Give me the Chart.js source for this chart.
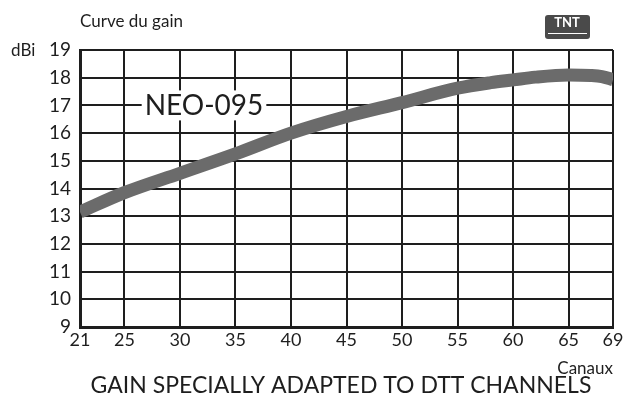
<!DOCTYPE html>
<html>
<head>
<meta charset="utf-8">
<script src="https://cdn.jsdelivr.net/npm/chart.js@4.4.1/dist/chart.umd.min.js"></script>
<style>
  html, body { margin: 0; padding: 0; background: #fff; }
  #wrap { width: 627px; height: 402px; position: relative; }
</style>
</head>
<body>
<div id="wrap"><canvas id="gain-chart"></canvas></div>
<script>
"use strict";

// values
const channels = [21, 25, 30, 35, 40, 45, 50, 55, 58, 60, 62, 65, 67, 68, 69];
const gainDbi = [13.15, 13.85, 14.55, 15.25, 16.0, 16.6, 17.1, 17.62, 17.82, 17.92, 18.02, 18.1, 18.08, 18.04, 17.93];
const xTickValues = [21, 25, 30, 35, 40, 45, 50, 55, 60, 65, 69];
const yTickValues = [9, 10, 11, 12, 13, 14, 15, 16, 17, 18, 19];

const titleText = "Curve du gain";
const yUnitText = "dBi";
const xUnitText = "Canaux";
const seriesLabel = "NEO-095";
const footerText = "GAIN SPECIALLY ADAPTED TO DTT CHANNELS";

const FONT = "Lato, 'Open Sans', sans-serif";
const INK = "#1e1e1e";

const annotations = {
  id: "annotations",
  afterDatasetsDraw(chart) {
    const ctx = chart.ctx;
    const x = chart.scales.x;
    const y = chart.scales.y;
    ctx.save();

    // series label sitting on the 17 dBi line with a white box behind it
    ctx.font = "28px " + FONT;
    const w = ctx.measureText(seriesLabel).width;
    const cx = 204;
    const cy = y.getPixelForValue(17);
    ctx.fillStyle = "#fff";
    ctx.fillRect(cx - w / 2 - 3, cy - 15, w + 6, 30);
    ctx.fillStyle = INK;
    ctx.textAlign = "center";
    ctx.textBaseline = "middle";
    ctx.fillText(seriesLabel, cx, cy + 1);

    // texts around the plot
    ctx.font = "17px " + FONT;
    ctx.textAlign = "left";
    ctx.fillText(titleText, 80, 22);
    ctx.fillText(yUnitText, 11, y.getPixelForValue(19) + 1);
    ctx.textAlign = "right";
    ctx.fillText(xUnitText, x.right, 369);

    ctx.font = "23px " + FONT;
    ctx.textAlign = "center";
    ctx.fillText(footerText, 341, 386);

    // small TNT badge
    ctx.fillStyle = "#4a4a4a";
    ctx.beginPath();
    ctx.roundRect(545, 15, 45, 24, 3);
    ctx.fill();
    ctx.fillStyle = "#fff";
    ctx.font = "bold 13px " + FONT;
    ctx.fillText("TNT", 567, 23);
    ctx.fillRect(548, 33, 39, 1);
    ctx.restore();
  }
};

new Chart(document.getElementById("gain-chart"), {
  type: "line",
  data: {
    datasets: [
      {
        label: seriesLabel,
        data: channels.map((c, i) => ({ x: c, y: gainDbi[i] })),
        borderColor: "#6b6b6b",
        borderWidth: 13,
        borderCapStyle: "butt",
        pointRadius: 0,
        cubicInterpolationMode: "monotone",
        fill: false,
        clip: 0
      }
    ]
  },
  options: {
    responsive: true,
    maintainAspectRatio: false,
    animation: false,
    layout: { padding: { top: 50, right: 14, bottom: 0, left: 0 } },
    plugins: {
      legend: { display: false },
      tooltip: { enabled: false }
    },
    scales: {
      x: {
        type: "linear",
        min: 21,
        max: 69,
        afterBuildTicks: (scale) => {
          scale.ticks = xTickValues.map((v) => ({ value: v }));
        },
        afterFit: (scale) => { scale.height = 75; },
        ticks: { color: INK, font: { family: FONT, size: 18 }, padding: 2, maxRotation: 0, autoSkip: false },
        grid: { color: INK, lineWidth: 2, drawTicks: false },
        border: { color: INK, width: 3 }
      },
      y: {
        min: 9,
        max: 19,
        afterBuildTicks: (scale) => {
          scale.ticks = yTickValues.map((v) => ({ value: v }));
        },
        afterFit: (scale) => { scale.width = 80; },
        ticks: { color: INK, font: { family: FONT, size: 19 }, padding: 9 },
        grid: { color: INK, lineWidth: 2, drawTicks: false },
        border: { color: INK, width: 3 }
      }
    }
  },
  plugins: [annotations]
});
</script>
</body>
</html>
